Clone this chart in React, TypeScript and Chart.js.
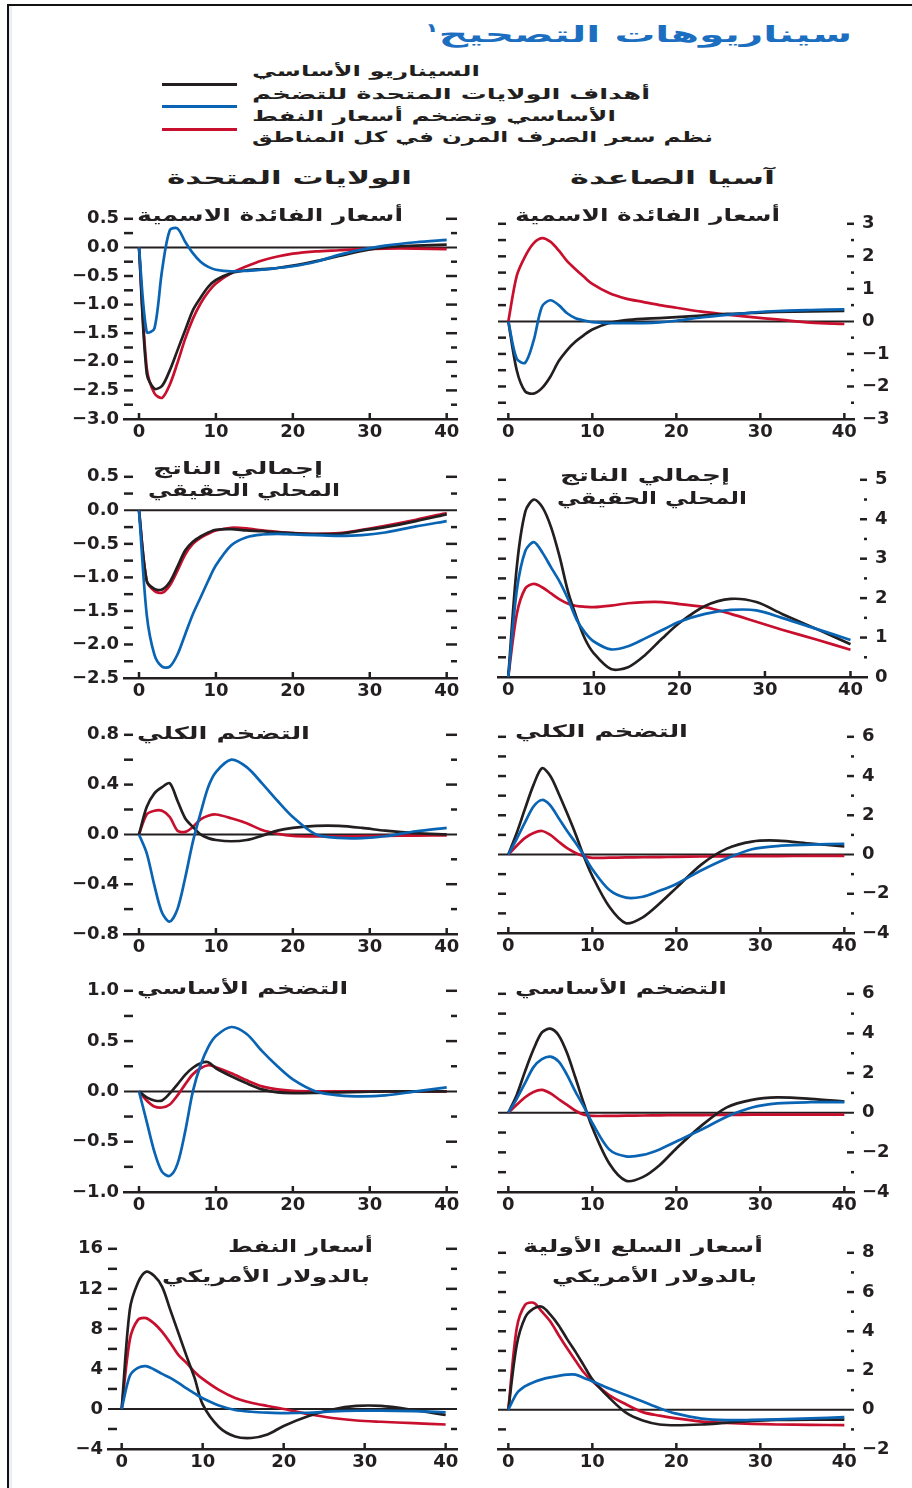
import React, { useEffect, useLayoutEffect, useRef } from 'react';
import { Chart, registerables } from 'chart.js';

Chart.register(...registerables);

const INK = '#231f20';
const BLUE = '#0a64b4';
const RED = '#c8102e';
const TITLE_BLUE = '#1c6fc0';
const FAMILY = "'DejaVu Sans', 'Noto Sans', sans-serif";

// ---------- data ----------
const quarters = [0, 1, 2, 3, 4, 5, 6, 7, 8, 9, 10, 12, 14, 16, 18, 20, 23, 26, 29, 32, 36, 40];
const xTicks = [0, 10, 20, 30, 40];
const xTickLabels = ['0', '10', '20', '30', '40'];

// Nominal interest rates — United States
const usRateBaseline = [0, -2.2, -2.47, -2.42, -2.15, -1.8, -1.45, -1.1, -0.88, -0.69, -0.57, -0.45, -0.4, -0.38, -0.36, -0.32, -0.24, -0.15, -0.06, 0.0, 0.03, 0.05];
const usRateTargets = [0, -1.48, -1.42, -0.4, 0.3, 0.33, 0.1, -0.1, -0.25, -0.34, -0.39, -0.42, -0.41, -0.39, -0.36, -0.33, -0.25, -0.13, -0.04, 0.03, 0.09, 0.13];
const usRateFlex = [0, -2.1, -2.55, -2.63, -2.4, -2.02, -1.6, -1.25, -0.98, -0.78, -0.63, -0.45, -0.33, -0.23, -0.16, -0.11, -0.07, -0.05, -0.03, -0.02, -0.02, -0.03];
const usRateTicks = [0.5, 0, -0.5, -1, -1.5, -2, -2.5, -3];
const usRateTickLabels = ['0.5', '0.0', '−0.5', '−1.0', '−1.5', '−2.0', '−2.5', '−3.0'];

// Nominal interest rates — Emerging Asia
const asiaRateBaseline = [0, -1.5, -2.15, -2.22, -2.05, -1.7, -1.22, -0.88, -0.62, -0.42, -0.25, -0.05, 0.04, 0.08, 0.1, 0.13, 0.18, 0.23, 0.26, 0.29, 0.31, 0.32];
const asiaRateTargets = [0, -1.15, -1.27, -0.6, 0.45, 0.65, 0.5, 0.25, 0.1, 0.03, -0.02, -0.05, -0.05, -0.05, -0.03, 0.02, 0.12, 0.2, 0.27, 0.32, 0.35, 0.37];
const asiaRateFlex = [0, 1.4, 2.0, 2.4, 2.56, 2.45, 2.18, 1.85, 1.6, 1.37, 1.15, 0.87, 0.7, 0.6, 0.5, 0.42, 0.3, 0.21, 0.13, 0.06, -0.04, -0.08];
const asiaRateTicks = [3, 2, 1, 0, -1, -2, -3];
const asiaRateTickLabels = ['3', '2', '1', '0', '−1', '−2', '−3'];

// Real GDP — United States
const usGdpBaseline = [0, -1.05, -1.17, -1.18, -1.07, -0.84, -0.6, -0.47, -0.39, -0.33, -0.29, -0.28, -0.3, -0.31, -0.33, -0.34, -0.355, -0.35, -0.3, -0.25, -0.16, -0.06];
const usGdpTargets = [0, -1.55, -2.15, -2.33, -2.33, -2.15, -1.85, -1.55, -1.3, -1.05, -0.82, -0.52, -0.4, -0.36, -0.35, -0.36, -0.37, -0.38, -0.37, -0.33, -0.24, -0.16];
const usGdpFlex = [0, -1.05, -1.2, -1.23, -1.12, -0.9, -0.66, -0.5, -0.41, -0.35, -0.3, -0.26, -0.27, -0.3, -0.32, -0.34, -0.35, -0.34, -0.29, -0.23, -0.14, -0.04];
const usGdpTicks = [0.5, 0, -0.5, -1, -1.5, -2, -2.5];
const usGdpTickLabels = ['0.5', '0.0', '−0.5', '−1.0', '−1.5', '−2.0', '−2.5'];

// Real GDP — Emerging Asia
const asiaGdpBaseline = [0, 2.8, 4.2, 4.5, 4.3, 3.8, 3.05, 2.15, 1.5, 0.95, 0.6, 0.2, 0.25, 0.56, 0.98, 1.37, 1.8, 1.98, 1.9, 1.6, 1.22, 0.83];
const asiaGdpTargets = [0, 2.2, 3.2, 3.42, 3.15, 2.78, 2.42, 1.97, 1.45, 1.12, 0.9, 0.7, 0.78, 0.98, 1.19, 1.4, 1.6, 1.7, 1.69, 1.5, 1.22, 0.94];
const asiaGdpFlex = [0, 1.6, 2.25, 2.36, 2.27, 2.12, 1.97, 1.86, 1.8, 1.78, 1.77, 1.81, 1.87, 1.9, 1.9, 1.85, 1.77, 1.6, 1.4, 1.2, 0.95, 0.69];
const asiaGdpTicks = [5, 4, 3, 2, 1, 0];
const asiaGdpTickLabels = ['5', '4', '3', '2', '1', '0'];

// Headline inflation — United States
const usHeadlineBaseline = [0, 0.22, 0.33, 0.38, 0.41, 0.27, 0.13, 0.06, 0.0, -0.03, -0.045, -0.055, -0.045, -0.01, 0.03, 0.052, 0.068, 0.068, 0.052, 0.03, 0.01, 0.0];
const usHeadlineTargets = [0, -0.15, -0.41, -0.63, -0.7, -0.6, -0.35, -0.06, 0.17, 0.38, 0.5, 0.6, 0.54, 0.41, 0.27, 0.14, 0.0, -0.028, -0.03, -0.015, 0.025, 0.053];
const usHeadlineFlex = [0, 0.16, 0.19, 0.19, 0.14, 0.03, 0.02, 0.06, 0.12, 0.15, 0.16, 0.13, 0.09, 0.035, 0.005, -0.012, -0.016, -0.016, -0.014, -0.012, -0.01, -0.008];
const usHeadlineTicks = [0.8, 0.4, 0, -0.4, -0.8];
const usHeadlineTickLabels = ['0.8', '0.4', '0.0', '−0.4', '−0.8'];

// Headline inflation — Emerging Asia
const asiaHeadlineBaseline = [0, 1.1, 2.35, 3.55, 4.4, 4.0, 3.1, 2.1, 1.05, -0.1, -1.1, -2.65, -3.5, -3.2, -2.5, -1.7, -0.5, 0.3, 0.66, 0.71, 0.56, 0.41];
const asiaHeadlineTargets = [0, 0.8, 1.65, 2.45, 2.78, 2.5, 1.85, 1.2, 0.6, -0.05, -0.75, -1.8, -2.2, -2.15, -1.85, -1.5, -0.8, -0.2, 0.27, 0.43, 0.5, 0.55];
const asiaHeadlineFlex = [0, 0.45, 0.85, 1.1, 1.2, 1.0, 0.65, 0.32, 0.08, -0.08, -0.17, -0.16, -0.15, -0.14, -0.13, -0.12, -0.1, -0.09, -0.08, -0.08, -0.07, -0.07];
const asiaHeadlineTicks = [6, 4, 2, 0, -2, -4];
const asiaHeadlineTickLabels = ['6', '4', '2', '0', '−2', '−4'];

// Core inflation — United States
const usCoreBaseline = [0, -0.06, -0.09, -0.09, -0.02, 0.07, 0.165, 0.235, 0.28, 0.29, 0.23, 0.15, 0.08, 0.02, -0.01, -0.017, -0.015, -0.01, -0.005, 0, 0, 0];
const usCoreTargets = [0, -0.3, -0.6, -0.8, -0.84, -0.72, -0.4, 0.0, 0.26, 0.44, 0.55, 0.64, 0.57, 0.4, 0.25, 0.12, 0.0, -0.04, -0.05, -0.04, 0.0, 0.04];
const usCoreFlex = [0, -0.09, -0.15, -0.16, -0.13, -0.04, 0.07, 0.17, 0.23, 0.26, 0.24, 0.18, 0.11, 0.05, 0.02, 0.006, 0, 0, 0, 0, 0, 0];
const usCoreTicks = [1, 0.5, 0, -0.5, -1];
const usCoreTickLabels = ['1.0', '0.5', '0.0', '−0.5', '−1.0'];

// Core inflation — Emerging Asia
const asiaCoreBaseline = [0, 0.9, 2.1, 3.2, 4.05, 4.24, 3.9, 3.0, 1.75, 0.45, -0.75, -2.55, -3.43, -3.25, -2.65, -1.8, -0.65, 0.27, 0.65, 0.77, 0.7, 0.56];
const asiaCoreTargets = [0, 0.7, 1.5, 2.3, 2.7, 2.83, 2.58, 1.9, 1.05, 0.3, -0.52, -1.85, -2.2, -2.13, -1.85, -1.45, -0.85, -0.2, 0.26, 0.47, 0.53, 0.53];
const asiaCoreFlex = [0, 0.4, 0.78, 1.05, 1.15, 0.98, 0.68, 0.4, 0.1, -0.1, -0.16, -0.16, -0.15, -0.14, -0.13, -0.12, -0.12, -0.11, -0.1, -0.1, -0.1, -0.1];
const asiaCoreTicks = [6, 4, 2, 0, -2, -4];
const asiaCoreTickLabels = ['6', '4', '2', '0', '−2', '−4'];

// Oil prices in US dollars — United States column
const usOilBaseline = [0, 9.9, 12.6, 13.7, 13.3, 12.2, 9.9, 7.6, 5.3, 3.1, 0.45, -1.8, -2.75, -2.9, -2.55, -1.7, -0.73, -0.05, 0.3, 0.3, -0.1, -0.6];
const usOilTargets = [0, 3.3, 4.1, 4.28, 3.95, 3.5, 3.1, 2.6, 2.05, 1.55, 1.07, 0.35, -0.1, -0.28, -0.37, -0.42, -0.38, -0.25, -0.18, -0.17, -0.22, -0.33];
const usOilFlex = [0, 6.9, 8.9, 9.08, 8.55, 7.7, 6.6, 5.4, 4.6, 3.7, 3.0, 1.9, 1.1, 0.62, 0.3, 0.0, -0.5, -0.9, -1.15, -1.28, -1.42, -1.55];
const usOilTicks = [16, 12, 8, 4, 0, -4];
const usOilTickLabels = ['16', '12', '8', '4', '0', '−4'];

// Commodity prices in US dollars — Emerging Asia column
const asiaCommodityBaseline = [0, 3.3, 4.7, 5.15, 5.25, 4.85, 4.3, 3.6, 2.95, 2.25, 1.55, 0.62, -0.15, -0.55, -0.75, -0.79, -0.75, -0.66, -0.57, -0.52, -0.5, -0.5];
const asiaCommodityTargets = [0, 0.83, 1.2, 1.4, 1.55, 1.65, 1.73, 1.79, 1.79, 1.62, 1.45, 1.08, 0.75, 0.42, 0.08, -0.2, -0.45, -0.53, -0.52, -0.49, -0.44, -0.38];
const asiaCommodityFlex = [0, 4.15, 5.35, 5.45, 5.0, 4.5, 3.8, 3.13, 2.5, 1.9, 1.45, 0.75, 0.28, -0.12, -0.3, -0.44, -0.6, -0.67, -0.72, -0.75, -0.77, -0.78];
const asiaCommodityTicks = [8, 6, 4, 2, 0, -2];
const asiaCommodityTickLabels = ['8', '6', '4', '2', '0', '−2'];

// ---------- layout (positions / styles) ----------
type Box = { l: number; r: number; t: number; b: number };
type Panel = {
  id: string;
  col: 'us' | 'asia';
  box: Box;
  x: [number, number];
  y: [number, number];
  ticks: number[];
  labels: string[];
  black: number[];
  blue: number[];
  red: number[];
};

const panels: Panel[] = [
  { id: 'usRate', col: 'us', box: { l: 124, r: 457, t: 217, b: 419 }, x: [-1.95, 41.34], y: [-3, 0.5], ticks: usRateTicks, labels: usRateTickLabels, black: usRateBaseline, blue: usRateTargets, red: usRateFlex },
  { id: 'asiaRate', col: 'asia', box: { l: 498, r: 854, t: 219, b: 419 }, x: [-1.23, 41.15], y: [-3, 3], ticks: asiaRateTicks, labels: asiaRateTickLabels, black: asiaRateBaseline, blue: asiaRateTargets, red: asiaRateFlex },
  { id: 'usGdp', col: 'us', box: { l: 124, r: 457, t: 475, b: 678 }, x: [-1.95, 41.34], y: [-2.5, 0.5], ticks: usGdpTicks, labels: usGdpTickLabels, black: usGdpBaseline, blue: usGdpTargets, red: usGdpFlex },
  { id: 'asiaGdp', col: 'asia', box: { l: 498, r: 867, t: 475, b: 677 }, x: [-1.2, 41.93], y: [0, 5], ticks: asiaGdpTicks, labels: asiaGdpTickLabels, black: asiaGdpBaseline, blue: asiaGdpTargets, red: asiaGdpFlex },
  { id: 'usHeadline', col: 'us', box: { l: 124, r: 457, t: 733, b: 934 }, x: [-1.95, 41.34], y: [-0.8, 0.8], ticks: usHeadlineTicks, labels: usHeadlineTickLabels, black: usHeadlineBaseline, blue: usHeadlineTargets, red: usHeadlineFlex },
  { id: 'asiaHeadline', col: 'asia', box: { l: 498, r: 854, t: 732, b: 933 }, x: [-1.23, 41.15], y: [-4, 6], ticks: asiaHeadlineTicks, labels: asiaHeadlineTickLabels, black: asiaHeadlineBaseline, blue: asiaHeadlineTargets, red: asiaHeadlineFlex },
  { id: 'usCore', col: 'us', box: { l: 124, r: 457, t: 989, b: 1192 }, x: [-1.95, 41.34], y: [-1, 1], ticks: usCoreTicks, labels: usCoreTickLabels, black: usCoreBaseline, blue: usCoreTargets, red: usCoreFlex },
  { id: 'asiaCore', col: 'asia', box: { l: 498, r: 854, t: 989, b: 1192 }, x: [-1.23, 41.15], y: [-4, 6], ticks: asiaCoreTicks, labels: asiaCoreTickLabels, black: asiaCoreBaseline, blue: asiaCoreTargets, red: asiaCoreFlex },
  { id: 'usOil', col: 'us', box: { l: 108, r: 457, t: 1247, b: 1449 }, x: [-1.69, 41.4], y: [-4, 16], ticks: usOilTicks, labels: usOilTickLabels, black: usOilBaseline, blue: usOilTargets, red: usOilFlex },
  { id: 'asiaCommodity', col: 'asia', box: { l: 498, r: 854, t: 1248, b: 1449 }, x: [-1.23, 41.15], y: [-2, 8], ticks: asiaCommodityTicks, labels: asiaCommodityTickLabels, black: asiaCommodityBaseline, blue: asiaCommodityTargets, red: asiaCommodityFlex },
];

const PAD_TOP = 14;
const X_AXIS_H = 30;
const US_AXIS_W = 60;
const ASIA_AXIS_W = 44;
const INNER_PAD = 14;

const near = (a: number, b: number) => Math.abs(a - b) < 1e-6;

function makeDecor(p: Panel) {
  const isUs = p.col === 'us';
  const leftLen = isUs ? 9 : 8;
  const rMaj = isUs ? 11 : 7;
  const rMin = isUs ? 6 : 3;
  return {
    id: 'decor',
    beforeDatasetsDraw(chart: any) {
      const { ctx, chartArea: a } = chart;
      const xs = chart.scales.x;
      const ys = chart.scales.y;
      const seg = (x1: number, y1: number, x2: number, y2: number, w: number) => {
        ctx.lineWidth = w;
        ctx.beginPath();
        ctx.moveTo(x1, y1);
        ctx.lineTo(x2, y2);
        ctx.stroke();
      };
      ctx.save();
      ctx.strokeStyle = INK;
      ctx.lineCap = 'butt';
      const y0 = ys.getPixelForValue(0);
      if (y0 < a.bottom - 2) seg(a.left, y0, a.right, y0, 2);
      for (const t of ys.ticks) {
        if (near(t.value, ys.min) || near(t.value, 0)) continue;
        const py = ys.getPixelForValue(t.value);
        const major = p.ticks.some((v) => near(v, t.value));
        seg(a.left, py, a.left + leftLen, py, 2.5);
        seg(a.right - (major ? rMaj : rMin), py, a.right, py, 2.5);
      }
      for (const t of xs.ticks) {
        const px = xs.getPixelForValue(t.value);
        seg(px, a.bottom, px, a.bottom - 6, 2.5);
      }
      ctx.restore();
    },
  };
}

function PanelChart({ p }: { p: Panel }) {
  const ref = useRef<HTMLCanvasElement>(null);
  const isUs = p.col === 'us';
  const axisW = isUs ? US_AXIS_W : ASIA_AXIS_W;
  const left = isUs ? p.box.l - axisW : p.box.l - INNER_PAD;
  const width = p.box.r - p.box.l + axisW + INNER_PAD;
  const top = p.box.t - PAD_TOP;
  const height = p.box.b - p.box.t + PAD_TOP + X_AXIS_H;

  useEffect(() => {
    const canvas = ref.current;
    if (!canvas) return;
    const allTicks = [...p.ticks];
    for (let i = 0; i < p.ticks.length - 1; i++) allTicks.push((p.ticks[i] + p.ticks[i + 1]) / 2);
    const ds = (label: string, ys: number[], color: string) => ({
      label,
      data: quarters.map((q, i) => ({ x: q, y: ys[i] })),
      borderColor: color,
      backgroundColor: color,
      borderWidth: 2.7,
      pointRadius: 0,
      fill: false,
      tension: 0.3,
      borderJoinStyle: 'round' as const,
    });
    const tickFont = { family: FAMILY, size: 18, weight: 'bold' as const };
    const chart = new Chart(canvas, {
      type: 'line',
      data: {
        datasets: [ds('blue', p.blue, BLUE), ds('black', p.black, INK), ds('red', p.red, RED)],
      },
      options: {
        animation: false,
        responsive: false,
        maintainAspectRatio: false,
        devicePixelRatio: 1,
        events: [],
        layout: {
          padding: {
            top: PAD_TOP,
            bottom: 0,
            left: isUs ? 0 : INNER_PAD,
            right: isUs ? INNER_PAD : 0,
          },
        },
        plugins: { legend: { display: false }, tooltip: { enabled: false }, title: { display: false } },
        scales: {
          x: {
            type: 'linear',
            min: p.x[0],
            max: p.x[1],
            afterBuildTicks: (s: any) => {
              s.ticks = xTicks.map((v) => ({ value: v }));
            },
            afterFit: (s: any) => {
              s.height = X_AXIS_H;
            },
            ticks: {
              autoSkip: false,
              maxRotation: 0,
              minRotation: 0,
              padding: 3,
              color: INK,
              font: tickFont,
              callback: (v: any) => {
                const i = xTicks.findIndex((t) => near(t, Number(v)));
                return i >= 0 ? xTickLabels[i] : '';
              },
            },
            grid: { display: false, drawTicks: false },
            border: { display: true, color: INK, width: 2.5 },
          },
          y: {
            type: 'linear',
            position: isUs ? 'left' : 'right',
            min: p.y[0],
            max: p.y[1],
            afterBuildTicks: (s: any) => {
              s.ticks = allTicks.map((v) => ({ value: v }));
            },
            afterFit: (s: any) => {
              s.width = axisW;
            },
            ticks: {
              autoSkip: false,
              padding: isUs ? 5 : 8,
              color: INK,
              font: tickFont,
              callback: (v: any) => {
                const i = p.ticks.findIndex((t) => near(t, Number(v)));
                return i >= 0 ? p.labels[i] : '';
              },
            },
            grid: { display: false, drawTicks: false },
            border: { display: false },
          },
        },
      } as any,
      plugins: [makeDecor(p) as any],
    });
    return () => chart.destroy();
  }, [p]);

  return (
    <canvas
      ref={ref}
      width={width}
      height={height}
      style={{ position: 'absolute', left, top, width, height }}
    />
  );
}

function FitText({ text, x, w, base, size, color = INK, sup }: { text: string; x: number; w: number; base: number; size: number; color?: string; sup?: string }) {
  const ref = useRef<HTMLDivElement>(null);
  useLayoutEffect(() => {
    const el = ref.current;
    if (!el) return;
    const fit = () => {
      el.style.transform = 'none';
      const nat = el.getBoundingClientRect().width;
      if (nat > 0) el.style.transform = `scaleX(${w / nat})`;
    };
    fit();
    const fonts = (document as any).fonts;
    if (fonts && fonts.ready) fonts.ready.then(fit);
  }, [w, text]);
  return (
    <div
      ref={ref}
      dir="rtl"
      style={{
        position: 'absolute',
        left: x,
        top: base - 0.928 * size,
        fontFamily: FAMILY,
        fontWeight: 700,
        fontSize: size,
        lineHeight: `${1.164 * size}px`,
        whiteSpace: 'nowrap',
        color,
        transformOrigin: '0 0',
      }}
    >
      {text}
      {sup ? <span style={{ fontSize: '0.55em', position: 'relative', top: '-0.8em' }}>{sup}</span> : null}
    </div>
  );
}

const legendItems = [
  { color: INK, y: 83 },
  { color: BLUE, y: 104.5 },
  { color: RED, y: 128 },
];

const legendLines = [
  { t: 'السيناريو الأساسي', x: 252, w: 228, base: 77 },
  { t: 'أهداف الولايات المتحدة للتضخم', x: 252, w: 398, base: 100 },
  { t: 'الأساسي وتضخم أسعار النفط', x: 252, w: 364, base: 122 },
  { t: 'نظم سعر الصرف المرن في كل المناطق', x: 252, w: 461, base: 143 },
];

const headers = [
  { t: 'الولايات المتحدة', x: 167, w: 245, base: 185, size: 18 },
  { t: 'آسيا الصاعدة', x: 570, w: 205, base: 185, size: 18 },
];

const panelTitles = [
  { t: 'أسعار الفائدة الاسمية', x: 137, w: 266, base: 222 },
  { t: 'أسعار الفائدة الاسمية', x: 515, w: 265, base: 222 },
  { t: 'إجمالي الناتج', x: 153, w: 170, base: 475 },
  { t: 'المحلي الحقيقي', x: 148, w: 192, base: 497 },
  { t: 'إجمالي الناتج', x: 560, w: 170, base: 482 },
  { t: 'المحلي الحقيقي', x: 557, w: 190, base: 505 },
  { t: 'التضخم الكلي', x: 137, w: 173, base: 740 },
  { t: 'التضخم الكلي', x: 515, w: 173, base: 738 },
  { t: 'التضخم الأساسي', x: 137, w: 211, base: 995 },
  { t: 'التضخم الأساسي', x: 515, w: 212, base: 995 },
  { t: 'أسعار النفط', x: 228, w: 145, base: 1253 },
  { t: 'بالدولار الأمريكي', x: 162, w: 208, base: 1283 },
  { t: 'أسعار السلع الأولية', x: 523, w: 240, base: 1253 },
  { t: 'بالدولار الأمريكي', x: 552, w: 205, base: 1283 },
];

export default function App() {
  return (
    <div style={{ position: 'absolute', left: 0, top: 0, width: 912, height: 1488, background: '#fff', overflow: 'hidden' }}>
      {/* frame */}
      <div style={{ position: 'absolute', left: 7, top: 4, width: 905, height: 2, background: '#111' }} />
      <div style={{ position: 'absolute', left: 7, top: 4, width: 2, height: 1484, background: '#111' }} />
      <div style={{ position: 'absolute', left: 9, top: 6, width: 3, height: 1482, background: '#eceef6' }} />

      <FitText text="سيناريوهات التصحيح" sup="١" x={425} w={427} base={42} size={22} color={TITLE_BLUE} />

      {legendItems.map((l, i) => (
        <div key={i} style={{ position: 'absolute', left: 162, top: l.y, width: 75, height: 3, background: l.color }} />
      ))}
      {legendLines.map((l, i) => (
        <FitText key={i} text={l.t} x={l.x} w={l.w} base={l.base} size={15} />
      ))}

      {headers.map((h, i) => (
        <FitText key={i} text={h.t} x={h.x} w={h.w} base={h.base} size={h.size} />
      ))}

      {panels.map((p) => (
        <PanelChart key={p.id} p={p} />
      ))}

      {panelTitles.map((t, i) => (
        <FitText key={i} text={t.t} x={t.x} w={t.w} base={t.base} size={17} />
      ))}
    </div>
  );
}
